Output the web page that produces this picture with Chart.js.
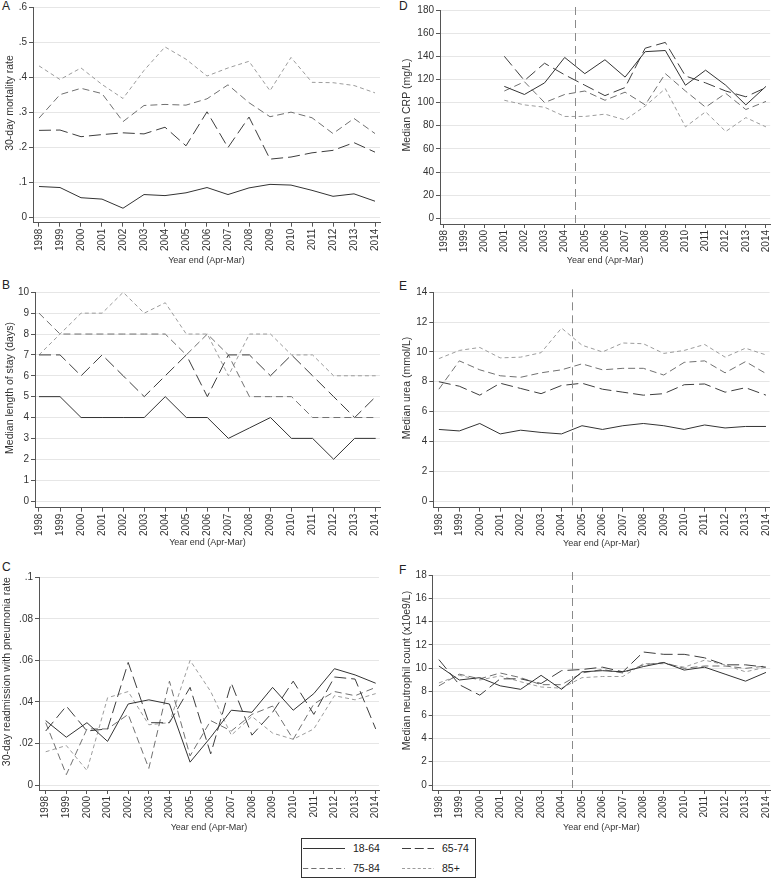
<!DOCTYPE html>
<html>
<head>
<meta charset="utf-8">
<script src="https://cdn.jsdelivr.net/npm/chart.js@4/dist/chart.umd.min.js"></script>
<style>
  body { margin: 0; background: #fff; width: 780px; height: 881px; position: relative; overflow: hidden;
         font-family: "Liberation Sans", Arial, sans-serif; color: #222; }
  canvas { position: absolute; }
  .tag { position: absolute; font-size: 12px; line-height: 12px; color: #222; }
  #legend { position: absolute; left: 301px; top: 838px; width: 175px; height: 40px; border: 1px solid #333; box-sizing: border-box; }
  #legend .item { position: absolute; display: flex; align-items: center; font-size: 10.5px; color: #222; }
  #legend svg { margin-right: 8px; }
</style>
</head>
<body>
<div class="tag" style="left:2px;top:0px">A</div>
<div class="tag" style="left:2px;top:279px">B</div>
<div class="tag" style="left:2px;top:561px">C</div>
<div class="tag" style="left:399px;top:0px">D</div>
<div class="tag" style="left:399px;top:280px">E</div>
<div class="tag" style="left:399px;top:564px">F</div>

<canvas id="panelA"></canvas>
<canvas id="panelB"></canvas>
<canvas id="panelC"></canvas>
<canvas id="panelD"></canvas>
<canvas id="panelE"></canvas>
<canvas id="panelF"></canvas>
<div id="legend"></div>

<script>
// data, one value per year end (Apr-Mar)
const years = [1998, 1999, 2000, 2001, 2002, 2003, 2004, 2005, 2006, 2007, 2008, 2009, 2010, 2011, 2012, 2013, 2014];
const groups = ['18-64', '65-74', '75-84', '85+'];

// A - 30-day mortality rate
const mort1864 = [.089, .086, .057, .053, .027, .066, .063, .071, .086, .066, .085, .095, .093, .078, .061, .068, .047];
const mort6574 = [.249, .250, .231, .237, .242, .239, .258, .205, .302, .200, .287, .167, .173, .185, .192, .214, .187];
const mort7584 = [.284, .351, .369, .354, .274, .320, .323, .321, .339, .379, .328, .288, .301, .285, .240, .283, .240];
const mort85 = [.433, .394, .427, .380, .340, .420, .487, .452, .404, .427, .446, .362, .457, .386, .385, .377, .356];

// B - median length of stay (days)
const los1864 = [5, 5, 4, 4, 4, 4, 5, 4, 4, 3, 3.5, 4, 3, 3, 2, 3, 3];
const los6574 = [7, 7, 6, 7, 6, 5, 6, 7, 5, 7, 7, 6, 7, 6, 5, 4, 5];
const los7584 = [9, 8, 8, 8, 8, 8, 8, 7, 8, 7, 5, 5, 5, 4, 4, 4, 4];
const los85 = [7, 8, 9, 9, 10, 9, 9.5, 8, 8, 6, 8, 8, 7, 7, 6, 6, 6];

// C - 30-day readmission with pneumonia rate
const read1864 = [.031, .023, .030, .021, .039, .041, .039, .011, .023, .036, .035, .047, .036, .044, .056, .053, .049];
const read6574 = [.026, .038, .026, .027, .059, .030, .030, .047, .015, .049, .024, .035, .050, .034, .052, .051, .027];
const read7584 = [.030, .005, .027, .027, .034, .008, .050, .014, .031, .026, .034, .038, .022, .039, .045, .043, .047];
const read85 = [.016, .019, .007, .042, .045, .029, .030, .060, .045, .024, .033, .025, .022, .027, .043, .041, .044];

// D - median CRP (mg/L), recorded from 2001
const crp1864 = [null, null, null, 114, 107, 117, 139, 125, 137, 122, 144, 145, 115, 128, 115, 98, 114];
const crp6574 = [null, null, null, 140, 119, 134, 124, 115, 106, 113, 147, 152, 123, 117, 110, 105, 113];
const crp7584 = [null, null, null, 110, 118, 100, 107, 110, 102, 109, 98, 125, 110, 96, 108, 94, 101];
const crp85 = [null, null, null, 102, 98, 96, 88, 88, 90, 85, 97, 112, 79, 92, 75, 87, 79];

// E - median urea (mmol/L)
const urea1864 = [4.8, 4.7, 5.2, 4.5, 4.75, 4.6, 4.5, 5.05, 4.8, 5.05, 5.2, 5.05, 4.8, 5.1, 4.9, 5.0, 5.0];
const urea6574 = [8.0, 7.7, 7.1, 7.9, 7.55, 7.2, 7.75, 7.9, 7.5, 7.3, 7.1, 7.2, 7.8, 7.85, 7.3, 7.6, 7.1];
const urea7584 = [7.5, 9.4, 8.8, 8.4, 8.3, 8.6, 8.8, 9.2, 8.8, 8.9, 8.9, 8.45, 9.3, 9.4, 8.6, 9.35, 8.55];
const urea85 = [9.55, 10.1, 10.3, 9.6, 9.65, 9.95, 11.6, 10.45, 10.0, 10.6, 10.55, 9.9, 10.1, 10.5, 9.65, 10.25, 9.8];

// F - median neutrophil count (x10e9/L)
const neut1864 = [10.2, 9.0, 9.2, 8.5, 8.2, 9.4, 8.2, 9.7, 9.8, 9.7, 10.15, 10.5, 9.85, 10.1, 9.5, 8.9, 9.65];
const neut6574 = [10.75, 8.6, 7.7, 9.1, 9.1, 8.7, 9.8, 9.9, 10.1, 9.7, 11.4, 11.2, 11.2, 10.9, 10.3, 10.3, 10.1];
const neut7584 = [8.5, 9.5, 9.1, 9.6, 9.2, 8.6, 8.6, 9.6, 9.9, 9.6, 10.3, 10.5, 10.0, 10.2, 10.2, 10.0, 10.2];
const neut85 = [8.75, 9.4, 9.0, 9.35, 8.85, 8.4, 8.3, 9.2, 9.3, 9.3, 10.4, 10.4, 10.1, 10.7, 10.3, 9.7, 10.1];

// y tick labels
const ticksA = [0, .1, .2, .3, .4, .5, .6];
const ticksB = [0, 1, 2, 3, 4, 5, 6, 7, 8, 9, 10];
const ticksC = [0, .02, .04, .06, .08, .1];
const ticksD = [0, 20, 40, 60, 80, 100, 120, 140, 160, 180];
const ticksE = [0, 2, 4, 6, 8, 10, 12, 14];
const ticksF = [0, 2, 4, 6, 8, 10, 12, 14, 16, 18];

const cutYear = 2004.5; // dashed reference line in the blood test panels

const lineColors = ['#333333', '#3d3d3d', '#707070', '#9c9c9c'];
const lineDashes = [[], [12, 5], [7, 4], [4, 3]];
const axisColor = '#555555';
const xTitleSize = 9;
const yTitleSize = 10.5;

Chart.defaults.font.family = '"Liberation Sans", Arial, sans-serif';
Chart.defaults.color = '#333';

// vertical dashed line at cutYear
const refLine = {
  id: 'refLine',
  afterDatasetsDraw(chart, args, opts) {
    if (opts.year == null) return;
    const ctx = chart.ctx;
    const x = Math.round(chart.scales.x.getPixelForValue(opts.year)) + 0.5;
    ctx.save();
    ctx.strokeStyle = '#8a8a8a';
    ctx.lineWidth = 1;
    ctx.setLineDash([8, 5]);
    ctx.beginPath();
    ctx.moveTo(x, chart.chartArea.top - 3);
    ctx.lineTo(x, chart.chartArea.bottom);
    ctx.stroke();
    ctx.restore();
  }
};

// y axis title, sitting a little above the middle of the plot like the original
const yTitle = {
  id: 'yTitle',
  afterDraw(chart, args, opts) {
    if (!opts.text) return;
    const ctx = chart.ctx;
    const area = chart.chartArea;
    ctx.save();
    ctx.translate(opts.x, (area.top + area.bottom) / 2 - opts.lift);
    ctx.rotate(-Math.PI / 2);
    ctx.font = `${yTitleSize}px "Liberation Sans", Arial, sans-serif`;
    ctx.fillStyle = '#333';
    ctx.textAlign = 'center';
    ctx.textBaseline = 'middle';
    ctx.fillText(opts.text, 0, 0);
    ctx.restore();
  }
};

function decimalLabel(v) {
  if (v === 0) return '0';
  return String(v).replace(/^0/, '');
}

function drawPanel(p) {
  const cv = document.getElementById(p.id);
  const cTop = Math.floor(p.plotTop - 14);
  const cBottom = Math.ceil(p.xTitleY + 10);
  cv.width = p.width;
  cv.height = cBottom - cTop;
  cv.style.left = p.left + 'px';
  cv.style.top = cTop + 'px';

  const first = years[0], last = years[years.length - 1];
  const pxYear = (p.x1 - p.x0) / (last - first);
  const xMin = first - (p.x0 - p.axisX) / pxYear;
  const xMax = last + (p.plotRight - p.x1) / pxYear;
  const yTop = p.yTicks[p.yTicks.length - 1];
  const pxUnit = (p.zeroY - p.plotTop) / yTop;
  const yMin = -(p.axisY - p.zeroY) / pxUnit;

  new Chart(cv, {
    type: 'line',
    data: {
      datasets: groups.map((g, i) => ({
        label: g,
        data: years.map((yr, j) => ({ x: yr, y: p.series[i][j] })),
        borderColor: lineColors[i],
        borderDash: lineDashes[i],
        borderWidth: 1,
        pointRadius: 0,
        tension: 0,
        fill: false,
        spanGaps: false
      }))
    },
    options: {
      responsive: false,
      animation: false,
      devicePixelRatio: 1,
      layout: {
        padding: {
          left: 0,
          top: p.plotTop - cTop,
          right: p.left + p.width - p.plotRight,
          bottom: cBottom - (p.xTitleY + xTitleSize / 2)
        }
      },
      plugins: {
        legend: { display: false },
        tooltip: { enabled: false },
        refLine: { year: p.refYear },
        yTitle: { text: p.yTitle, x: p.yTitleX - p.left, lift: 12 }
      },
      scales: {
        x: {
          type: 'linear',
          min: xMin,
          max: xMax,
          afterBuildTicks: s => { s.ticks = years.map(v => ({ value: v })); },
          afterFit: s => { s.height = p.xTitleY + xTitleSize / 2 - p.axisY; },
          ticks: { minRotation: 90, maxRotation: 90, autoSkip: false, padding: 2, color: '#333',
                   font: { size: 10 }, callback: v => String(v) },
          grid: { drawOnChartArea: false, drawTicks: true, tickLength: 4, tickColor: axisColor },
          border: { color: axisColor, width: 1 },
          title: { display: true, text: 'Year end (Apr-Mar)', color: '#333',
                   font: { size: xTitleSize, lineHeight: 1 }, padding: 0 }
        },
        y: {
          type: 'linear',
          min: yMin,
          max: yTop,
          afterBuildTicks: s => { s.ticks = p.yTicks.map(v => ({ value: v })); },
          afterFit: s => { s.width = p.axisX - p.left; },
          ticks: { padding: 2, color: '#333', font: { size: 10 }, callback: p.fmt },
          grid: { color: '#e6e6e6', lineWidth: 1, drawTicks: true, tickLength: 4, tickColor: axisColor },
          border: { color: axisColor, width: 1 }
        }
      }
    },
    plugins: [refLine, yTitle]
  });
}

// panel geometry in page pixels
const panels = [
  { id: 'panelA', left: 0, width: 390, axisX: 33, plotRight: 380, x0: 39, x1: 375,
    plotTop: 7.3, zeroY: 217.7, axisY: 222.7, xTitleY: 261, yTitleX: 10,
    yTicks: ticksA, fmt: decimalLabel, yTitle: '30-day mortality rate',
    series: [mort1864, mort6574, mort7584, mort85] },
  { id: 'panelB', left: 0, width: 390, axisX: 35, plotRight: 380, x0: 39, x1: 375.7,
    plotTop: 292.3, zeroY: 501, axisY: 507.7, xTitleY: 543, yTitleX: 10.5,
    yTicks: ticksB, fmt: v => String(v), yTitle: 'Median length of stay (days)',
    series: [los1864, los6574, los7584, los85] },
  { id: 'panelC', left: 0, width: 390, axisX: 39, plotRight: 379, x0: 45.7, x1: 375.7,
    plotTop: 577.3, zeroY: 785, axisY: 790, xTitleY: 827.7, yTitleX: 7.5,
    yTicks: ticksC, fmt: decimalLabel, yTitle: '30-day readmission with pneumonia rate',
    series: [read1864, read6574, read7584, read85] },
  { id: 'panelD', left: 390, width: 390, axisX: 440, plotRight: 777, x0: 444, x1: 772.7,
    plotTop: 10, zeroY: 218.3, axisY: 224, xTitleY: 261, yTitleX: 407.5, refYear: cutYear,
    yTicks: ticksD, fmt: v => String(v), yTitle: 'Median CRP (mg/L)',
    series: [crp1864, crp6574, crp7584, crp85] },
  { id: 'panelE', left: 390, width: 390, axisX: 433.3, plotRight: 777, x0: 439, x1: 773.3,
    plotTop: 292.3, zeroY: 501, axisY: 507.7, xTitleY: 544, yTitleX: 407, refYear: cutYear,
    yTicks: ticksE, fmt: v => String(v), yTitle: 'Median urea (mmol/L)',
    series: [urea1864, urea6574, urea7584, urea85] },
  { id: 'panelF', left: 390, width: 390, axisX: 432.7, plotRight: 777, x0: 439, x1: 772.7,
    plotTop: 575, zeroY: 785, axisY: 790, xTitleY: 827.7, yTitleX: 407, refYear: cutYear,
    yTicks: ticksF, fmt: v => String(v), yTitle: 'Median neutrophil count (x10e9/L)',
    series: [neut1864, neut6574, neut7584, neut85] }
];

panels.forEach(drawPanel);

// legend box under the panels
const legend = document.getElementById('legend');
const legendSpots = [[1, 3], [100, 3], [1, 23], [100, 23]]; // 18-64, 65-74, 75-84, 85+
const sampleWidth = [42, 32, 42, 32];
groups.forEach((g, i) => {
  const item = document.createElement('div');
  item.className = 'item';
  item.style.left = legendSpots[i][0] + 'px';
  item.style.top = legendSpots[i][1] + 'px';
  const w = sampleWidth[i];
  const dash = lineDashes[i].length ? ` stroke-dasharray="${lineDashes[i].map(d => d * 0.75).join(' ')}"` : '';
  item.innerHTML = `<svg width="${w}" height="12"><line x1="0" y1="6.5" x2="${w}" y2="6.5" stroke="${lineColors[i]}" stroke-width="1"${dash}/></svg><span>${g}</span>`;
  legend.appendChild(item);
});
</script>
</body>
</html>
